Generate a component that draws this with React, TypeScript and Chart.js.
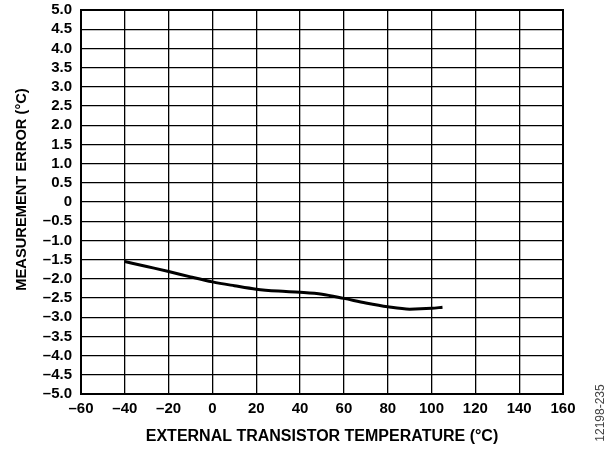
import React, { useEffect, useRef } from "react";
import { Chart, registerables } from "chart.js";

Chart.register(...registerables);

const temperatures = [-40, -30, -20, -10, 0, 10, 20, 30, 40, 50, 60, 70, 80, 90, 100, 105];
const measurementError = [-1.55, -1.68, -1.81, -1.95, -2.08, -2.18, -2.27, -2.32, -2.35, -2.4, -2.51, -2.63, -2.73, -2.79, -2.77, -2.74];

const xTitle = "EXTERNAL TRANSISTOR TEMPERATURE (°C)";
const yTitle = "MEASUREMENT ERROR (°C)";
const figureId = "12198-235";

const FONT = "Liberation Sans, Arial, Helvetica, sans-serif";

function dash(s: string) {
  return s.replace("-", "\u2013");
}

const frame = {
  id: "frame",
  afterDraw(chart: any) {
    const { ctx, chartArea } = chart;
    ctx.save();
    ctx.strokeStyle = "#000";
    ctx.lineWidth = 2;
    ctx.strokeRect(chartArea.left, chartArea.top, chartArea.right - chartArea.left, chartArea.bottom - chartArea.top);
    ctx.restore();

    ctx.save();
    ctx.translate(21.5, 189.5);
    ctx.rotate(-Math.PI / 2);
    ctx.fillStyle = "#000";
    ctx.font = "bold 14.7px " + FONT;
    ctx.textAlign = "center";
    ctx.textBaseline = "middle";
    ctx.fillText(yTitle, 0, 0);
    ctx.restore();

    ctx.save();
    ctx.translate(601, 413);
    ctx.rotate(-Math.PI / 2);
    ctx.fillStyle = "#444";
    ctx.font = "12px " + FONT;
    ctx.textAlign = "center";
    ctx.textBaseline = "middle";
    ctx.fillText(figureId, 0, 0);
    ctx.restore();
  },
};

export default function App() {
  const ref = useRef<HTMLCanvasElement>(null);
  useEffect(() => {
    if (!ref.current) return;
    const chart = new Chart(ref.current, {
      type: "line",
      data: {
        datasets: [
          {
            data: temperatures.map((t, i) => ({ x: t, y: measurementError[i] })),
            borderColor: "#000",
            borderWidth: 3,
            pointRadius: 0,
            tension: 0.4,
            cubicInterpolationMode: "monotone",
            fill: false,
          },
        ],
      },
      options: {
        responsive: false,
        animation: false,
        layout: { padding: { left: 0, right: 52, top: 10, bottom: 0 } },
        plugins: { legend: { display: false }, tooltip: { enabled: false } },
        scales: {
          x: {
            type: "linear",
            min: -60,
            max: 160,
            afterFit: (s: any) => { s.height = 58; s.paddingLeft = 0; s.paddingRight = 0; },
            ticks: {
              stepSize: 20,
              padding: 6,
              autoSkip: false,
              maxRotation: 0,
              color: "#000",
              font: { family: FONT, size: 15, weight: "bold" },
              callback: (v: any) => dash(String(v)),
            },
            grid: { color: "#000", lineWidth: 1.3, drawTicks: false },
            border: { color: "#000", width: 2 },
            title: {
              display: true,
              text: xTitle,
              color: "#000",
              font: { family: FONT, size: 16, weight: "bold" },
              padding: { top: 0, bottom: 5.5 },
            },
          },
          y: {
            type: "linear",
            min: -5,
            max: 5,
            afterFit: (s: any) => { s.width = 81; s.paddingTop = 0; s.paddingBottom = 0; },
            ticks: {
              stepSize: 0.5,
              padding: 9,
              autoSkip: false,
              color: "#000",
              font: { family: FONT, size: 15, weight: "bold", lineHeight: 1 },
              callback: (v: any) => (Number(v) === 0 ? "0" : dash(Number(v).toFixed(1))),
            },
            grid: { color: "#000", lineWidth: 1.3, drawTicks: false },
            border: { color: "#000", width: 2 },
          },
        },
      },
      plugins: [frame],
    } as any);
    return () => chart.destroy();
  }, []);
  return (
    <div style={{ position: "fixed", left: 0, top: 0, width: 615, height: 452, background: "#fff" }}>
      <canvas ref={ref} width={615} height={452} />
    </div>
  );
}
